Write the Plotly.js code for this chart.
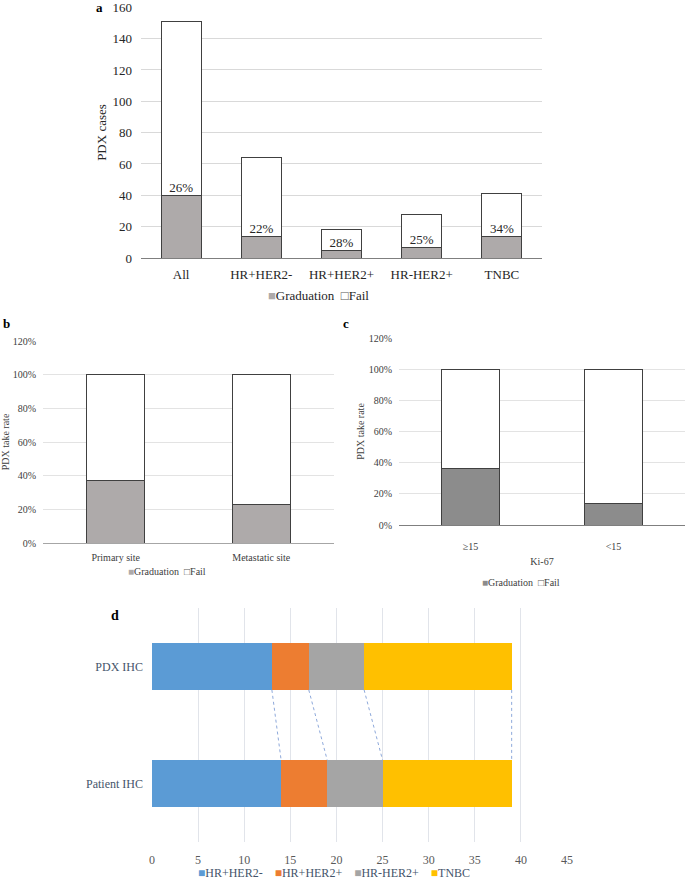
<!DOCTYPE html>
<html>
<head>
<meta charset="utf-8">
<script src="https://cdn.plot.ly/plotly-3.0.1.min.js"></script>
<style>html,body{margin:0;padding:0;background:#fff;}#chart{width:685px;height:879px;}</style>
</head>
<body>
<div id="chart"></div>
<script>
// Panel a
const subtypesA = ['All', 'HR+HER2-', 'HR+HER2+', 'HR-HER2+', 'TNBC'];
const gradA = [40, 14, 5, 7, 14];
const failA = [111, 50, 13, 21, 27];
// Panel b
const sitesB = ['Primary site', 'Metastatic site'];
const gradB = [0.37, 0.23];
const failB = [0.63, 0.77];
// Panel c
const ki67C = ['≥15', '<15'];
const gradC = [0.36, 0.14];
const failC = [0.64, 0.86];
// Panel d
const groupsD = ['PDX IHC', 'Patient IHC'];
const subtypesD = ['HR+HER2-', 'HR+HER2+', 'HR-HER2+', 'TNBC'];
const pdxD = [13, 4, 6, 16];
const patientD = [14, 5, 6, 14];
const colorsD = ['#5B9BD5', '#ED7D31', '#A5A5A5', '#FFC000'];
const statusNames = ['Graduation', 'Fail'];

const W = 685, H = 879;
const px = v => v / W;
const py = v => 1 - v / H;
const FONT = 'Liberation Serif';
const outline = {color: '#404040', width: 1};

const pctA = gradA.map((g, i) => Math.round(g / (g + failA[i]) * 100) + '%');

const traces = [
  {type: 'bar', name: statusNames[0], x: subtypesA, y: gradA, xaxis: 'x', yaxis: 'y', width: 0.5,
   marker: {color: '#AEAAAA', line: outline}, showlegend: false, hoverinfo: 'none'},
  {type: 'bar', name: statusNames[1], x: subtypesA, y: failA, xaxis: 'x', yaxis: 'y', width: 0.5,
   marker: {color: '#FFFFFF', line: outline}, showlegend: false, hoverinfo: 'none'},
  {type: 'scatter', mode: 'text', x: subtypesA, y: gradA, text: pctA, textposition: 'top center',
   textfont: {family: FONT, size: 13, color: '#262626'}, xaxis: 'x', yaxis: 'y', showlegend: false, hoverinfo: 'none'},

  {type: 'bar', name: statusNames[0], x: sitesB, y: gradB, xaxis: 'x2', yaxis: 'y2', width: 0.4,
   marker: {color: '#AEAAAA', line: outline}, showlegend: false, hoverinfo: 'none'},
  {type: 'bar', name: statusNames[1], x: sitesB, y: failB, xaxis: 'x2', yaxis: 'y2', width: 0.4,
   marker: {color: '#FFFFFF', line: outline}, showlegend: false, hoverinfo: 'none'},

  {type: 'bar', name: statusNames[0], x: ki67C, y: gradC, xaxis: 'x3', yaxis: 'y3', width: 0.4,
   marker: {color: '#8C8C8C', line: outline}, showlegend: false, hoverinfo: 'none'},
  {type: 'bar', name: statusNames[1], x: ki67C, y: failC, xaxis: 'x3', yaxis: 'y3', width: 0.4,
   marker: {color: '#FFFFFF', line: outline}, showlegend: false, hoverinfo: 'none'}
];

subtypesD.forEach((s, i) => {
  traces.push({type: 'bar', orientation: 'h', name: s, x: [pdxD[i], patientD[i]], y: groupsD,
    xaxis: 'x4', yaxis: 'y4', width: 0.4, marker: {color: colorsD[i], line: {width: 0}},
    showlegend: false, hoverinfo: 'none'});
});

// connector lines between cumulative boundaries
const shapes = [];
let cp = 0, cq = 0;
for (let i = 0; i < pdxD.length; i++) {
  cp += pdxD[i]; cq += patientD[i];
  shapes.push({type: 'line', xref: 'x4', yref: 'y4', x0: cp, y0: 0.2, x1: cq, y1: 0.8,
    line: {color: '#8EA9DB', width: 1, dash: 'dot'}});
}

const tickFont = (s, c) => ({family: FONT, size: s, color: c || '#595959'});

// legend keys as text rows
const key = (color, label, hollow) =>
  '<span style="color:' + color + '">' + (hollow ? '□' : '■') + '</span>' + label;
const gap = '&nbsp;&nbsp;';
const legendText = (gradColor) => key(gradColor, statusNames[0]) + gap + key('#595959', statusNames[1], true);
const legendD = subtypesD.map((s, i) => key(colorsD[i], s)).join('&nbsp;&nbsp;&nbsp;&nbsp;');

const legendAnn = (text, cx, cy, size, color) => ({text: text, x: px(cx), y: py(cy), xref: 'paper', yref: 'paper',
  showarrow: false, xanchor: 'center', yanchor: 'middle', font: {family: FONT, size: size, color: color}});

const layout = {
  width: W, height: H,
  margin: {l: 0, r: 0, t: 0, b: 0},
  paper_bgcolor: '#fff', plot_bgcolor: 'rgba(0,0,0,0)',
  barmode: 'stack',
  showlegend: false,
  font: {family: FONT, color: '#404040'},
  xaxis: {domain: [px(141), px(542)], anchor: 'y', showgrid: false, showline: true, linecolor: '#7F7F7F',
    tickfont: tickFont(13, '#262626'), ticks: '', ticklabelstandoff: 4, automargin: false, fixedrange: true},
  yaxis: {domain: [py(258), py(7)], anchor: 'x', range: [0, 160.2], tickvals: [0, 20, 40, 60, 80, 100, 120, 140, 160],
    gridcolor: '#D9D9D9', zeroline: false, showline: false, tickfont: tickFont(13, '#262626'), ticks: '', ticklabelstandoff: 8,
    ticklabeloverflow: 'allow',
    title: {text: 'PDX cases', font: {family: FONT, size: 13, color: '#262626'}, standoff: 2},
    automargin: false, fixedrange: true},

  xaxis2: {domain: [px(43), px(334)], anchor: 'y2', showgrid: false, showline: true, linecolor: '#A6A6A6',
    tickfont: tickFont(10, '#404040'), ticks: '', ticklabelstandoff: 5, automargin: false, fixedrange: true},
  yaxis2: {domain: [py(543), py(341)], anchor: 'x2', range: [0, 1.2], dtick: 0.2, tickformat: '.0%',
    gridcolor: '#E3E3E3', zeroline: false, tickfont: tickFont(10, '#404040'), ticks: '', ticklabelstandoff: 6,
    title: {text: 'PDX take rate', font: {family: FONT, size: 10, color: '#404040'}, standoff: 4},
    automargin: false, fixedrange: true},

  xaxis3: {domain: [px(399), px(685)], anchor: 'y3', showgrid: false, showline: true, linecolor: '#7F7F7F',
    tickfont: tickFont(10, '#404040'), ticks: '', ticklabelstandoff: 12, automargin: false, fixedrange: true,
    title: {text: 'Ki-67', font: {family: FONT, size: 10, color: '#404040'}, standoff: 6}},
  yaxis3: {domain: [py(525), py(338)], anchor: 'x3', range: [0, 1.2], dtick: 0.2, tickformat: '.0%',
    gridcolor: '#E3E3E3', zeroline: false, tickfont: tickFont(10, '#404040'), ticks: '', ticklabelstandoff: 6,
    title: {text: 'PDX take rate', font: {family: FONT, size: 10, color: '#404040'}, standoff: 2},
    automargin: false, fixedrange: true},

  xaxis4: {domain: [px(152), px(567)], anchor: 'y4', range: [0, 45], dtick: 5, gridcolor: '#E1E4EA',
    zeroline: false, showline: false, tickfont: tickFont(12, '#595959'), ticks: '', ticklabelstandoff: 9,
    automargin: false, fixedrange: true},
  yaxis4: {domain: [py(842), py(608)], anchor: 'x4', autorange: 'reversed', showgrid: false, zeroline: false,
    tickfont: tickFont(12, '#44546A'), ticks: '', ticklabelstandoff: 8, automargin: false, fixedrange: true},

  shapes: shapes,
  annotations: [
    {text: '<b>a</b>', x: px(100), y: py(8), xref: 'paper', yref: 'paper', showarrow: false,
     font: {family: FONT, size: 13, color: '#000'}, xanchor: 'center', yanchor: 'middle'},
    {text: '<b>b</b>', x: px(6), y: py(323), xref: 'paper', yref: 'paper', showarrow: false,
     font: {family: FONT, size: 13, color: '#000'}, xanchor: 'center', yanchor: 'middle'},
    {text: '<b>c</b>', x: px(346), y: py(323), xref: 'paper', yref: 'paper', showarrow: false,
     font: {family: FONT, size: 13, color: '#000'}, xanchor: 'center', yanchor: 'middle'},
    {text: '<b>d</b>', x: px(115), y: py(615), xref: 'paper', yref: 'paper', showarrow: false,
     font: {family: FONT, size: 14, color: '#000'}, xanchor: 'center', yanchor: 'middle'},
    legendAnn(legendText('#AEAAAA'), 318, 295, 13, '#262626'),
    legendAnn(legendText('#AEAAAA'), 167, 571, 10, '#404040'),
    legendAnn(legendText('#8C8C8C'), 521, 582, 10, '#404040'),
    legendAnn(legendD, 334, 873, 12, '#44546A')
  ]
};

Plotly.newPlot('chart', traces, layout, {displayModeBar: false, staticPlot: true});
</script>
</body>
</html>
